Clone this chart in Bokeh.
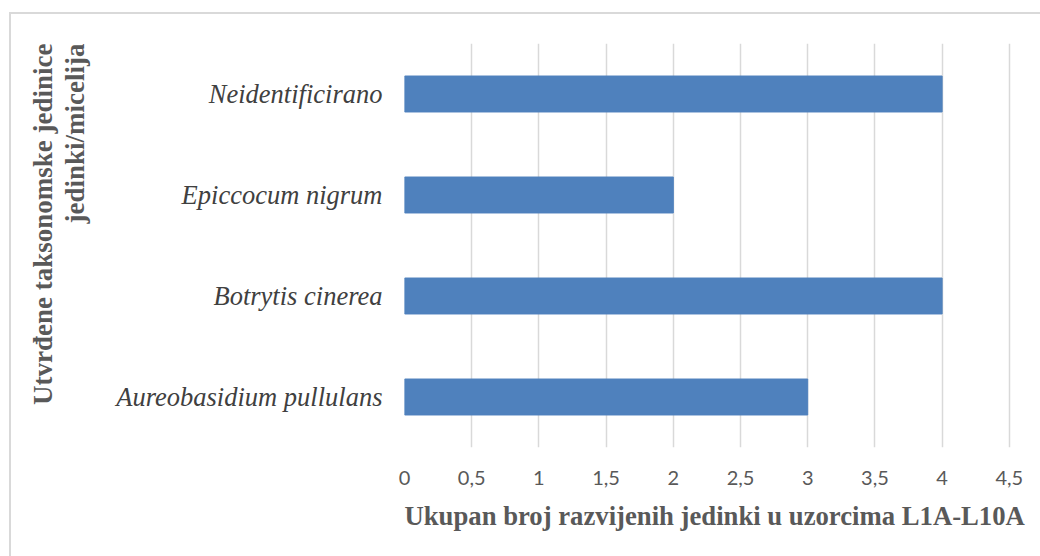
from bokeh.plotting import figure
from bokeh.models import Range1d, FactorRange, Title, SingleIntervalTicker, CustomJSTickFormatter
from bokeh.embed import file_html
from bokeh.resources import INLINE

categories = ["Aureobasidium pullulans", "Botrytis cinerea", "Epiccocum nigrum", "Neidentificirano"]
counts = [3, 4, 2, 4]
x_ticks_step = 0.5
x_title = "Ukupan broj razvijenih jedinki u uzorcima L1A-L10A"
y_title_1 = "Utvrđene taksonomske jedinice"
y_title_2 = "jedinki/micelija"

p = figure(width=1040, height=556, y_range=FactorRange(*categories),
           x_range=Range1d(0, 4.732), output_backend="svg", toolbar_location=None,
           min_border_left=404, min_border_right=0, min_border_top=43, min_border_bottom=109)
p.outline_line_color = None
p.background_fill_color = "white"
p.border_fill_color = "white"
p.stylesheets = [":host { position: relative; } :host::after { content: ''; position: absolute; "
                 "left: 9px; top: 12px; right: 0; bottom: 0; border-left: 2px solid #D9D9D9; "
                 "border-top: 2px solid #D9D9D9; pointer-events: none; z-index: 10; }"]

p.hbar(y=categories, right=counts, left=0, height=0.356, color="#4F81BD", line_color="#4F81BD")

p.xgrid.grid_line_color = "#D9D9D9"
p.xgrid.grid_line_width = 1.5
p.ygrid.grid_line_color = None
p.xaxis.ticker = SingleIntervalTicker(interval=x_ticks_step)
p.xaxis.formatter = CustomJSTickFormatter(code="return tick.toString().replace('.', ',');")

for ax in (p.xaxis[0], p.yaxis[0]):
    ax.axis_line_color = None
    ax.major_tick_line_color = None
    ax.minor_tick_line_color = None
    ax.major_tick_out = 0
    ax.major_tick_in = 0
    ax.minor_tick_out = 0

p.xaxis.major_label_text_font = "Lato"
p.xaxis.major_label_text_font_size = "20px"
p.xaxis.major_label_text_color = "#595959"
p.xaxis.major_label_standoff = 23

p.yaxis.major_label_text_font = "Liberation Serif"
p.yaxis.major_label_text_font_style = "italic"
p.yaxis.major_label_text_font_size = "26.5px"
p.yaxis.major_label_text_color = "#404040"
p.yaxis.major_label_standoff = 22

p.add_layout(Title(text=x_title, align="left", standoff=22, text_font="Liberation Serif",
                   text_font_style="bold", text_font_size="26.7px", text_color="#595959"), "below")
p.add_layout(Title(text=y_title_1 + "\n" + y_title_2, align="right", text_align="right", standoff=48,
                   text_font="Liberation Serif", text_font_style="bold", text_font_size="27px",
                   text_line_height=1.05, text_color="#595959"), "left")

open("out.html", "w").write(file_html(p, INLINE))
